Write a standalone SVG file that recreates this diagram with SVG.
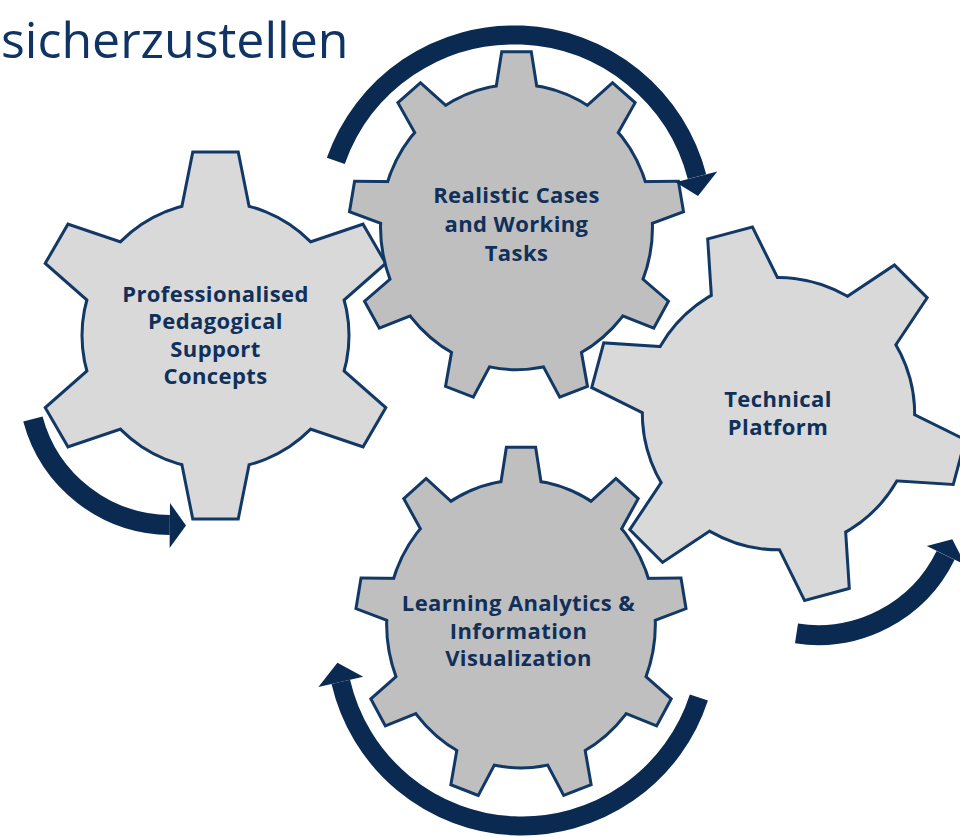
<svg xmlns="http://www.w3.org/2000/svg" xmlns:xlink="http://www.w3.org/1999/xlink" width="960" height="837" viewBox="0 0 960 837">
  <style>
    .edge { fill: #123865; stroke: #123865; stroke-width: 6; stroke-linejoin: miter; }
    .light { fill: #d9d9d9; stroke: none; }
    .dark { fill: #bfbfbf; stroke: none; }
    .lbl { font-family: "Open Sans", "Liberation Sans", sans-serif; font-weight: 700; font-size: 22px; letter-spacing: 0.4px; fill: #10305a; text-anchor: middle; }
    .title { font-family: "Open Sans", "Liberation Sans", sans-serif; font-size: 50px; fill: #0f3463; }
    .band { fill: none; stroke: #0b2a52; stroke-width: 19; stroke-linecap: butt; }
    .head { fill: #0b2a52; stroke: none; }
  </style>
  <defs>
    <polygon id="t6" points="-21.5,-182 21.5,-182 37.9,-100 -37.9,-100" vector-effect="non-scaling-stroke"/>
    <polygon id="t9" points="-13.5,-165.5 13.5,-165.5 24.4,-100 -24.4,-100" vector-effect="non-scaling-stroke"/>
    <g id="g6">
      <circle r="132" vector-effect="non-scaling-stroke"/>
      <use href="#t6"/>
      <use href="#t6" transform="rotate(60)"/>
      <use href="#t6" transform="rotate(120)"/>
      <use href="#t6" transform="rotate(180)"/>
      <use href="#t6" transform="rotate(240)"/>
      <use href="#t6" transform="rotate(300)"/>
    </g>
    <g id="g9">
      <circle r="134.5" vector-effect="non-scaling-stroke"/>
      <use href="#t9"/>
      <use href="#t9" transform="rotate(40)"/>
      <use href="#t9" transform="rotate(80)"/>
      <use href="#t9" transform="rotate(120)"/>
      <use href="#t9" transform="rotate(160)"/>
      <use href="#t9" transform="rotate(200)"/>
      <use href="#t9" transform="rotate(240)"/>
      <use href="#t9" transform="rotate(280)"/>
      <use href="#t9" transform="rotate(320)"/>
    </g>
  </defs>

  <text class="title" x="1" y="58">sicherzustellen</text>

  <g id="gear-professionalised">
    <g transform="translate(215.5,335.5)">
      <use href="#g6" class="edge"/>
      <use href="#g6" class="light"/>
    </g>
    <text class="lbl" x="215.5" y="302">Professionalised</text>
    <text class="lbl" x="215.5" y="329">Pedagogical</text>
    <text class="lbl" x="215.5" y="356.5">Support</text>
    <text class="lbl" x="215.5" y="383.5">Concepts</text>
  </g>

  <g id="gear-realistic">
    <g transform="translate(516.5,227) scale(1,1.05)">
      <use href="#g9" class="edge"/>
      <use href="#g9" class="dark"/>
    </g>
    <text class="lbl" x="516.5" y="203">Realistic Cases</text>
    <text class="lbl" x="516.5" y="232">and Working</text>
    <text class="lbl" x="516.5" y="260.5">Tasks</text>
  </g>

  <g id="gear-technical">
    <g transform="translate(778.5,413.7) rotate(-15) scale(1.02)">
      <use href="#g6" class="edge"/>
      <use href="#g6" class="light"/>
    </g>
    <text class="lbl" x="778" y="406.5">Technical</text>
    <text class="lbl" x="778" y="435">Platform</text>
  </g>

  <g id="gear-learning">
    <g transform="translate(521,624) scale(0.988,1.059)">
      <use href="#g9" class="edge"/>
      <use href="#g9" class="dark"/>
    </g>
    <text class="lbl" x="518.5" y="610.5">Learning Analytics &amp;</text>
    <text class="lbl" x="518.5" y="638.5">Information</text>
    <text class="lbl" x="518.5" y="666">Visualization</text>
  </g>

  <g id="connectors">
    <path class="band" d="M335.8,160.9 A189,189 0 0 1 697,176.7"/>
    <polygon class="head" points="675.7,182.2 717.3,171.4 698,196"/>
    <path class="band" d="M32.9,419 A143,143 0 0 0 169.8,525" style="stroke-width:20"/>
    <polygon class="head" points="170,503 169.6,548 186,525.5"/>
    <path class="band" d="M796.5,633.4 A142,142 0 0 0 945.6,555.3" style="stroke-width:20"/>
    <polygon class="head" points="926.8,546 965.4,564.9 952.3,539.2"/>
    <path class="band" d="M698.9,697.5 A186,186 0 0 1 340.8,681.8"/>
    <polygon class="head" points="318.4,687 363.2,676.7 337.4,662.7"/>
  </g>
</svg>
